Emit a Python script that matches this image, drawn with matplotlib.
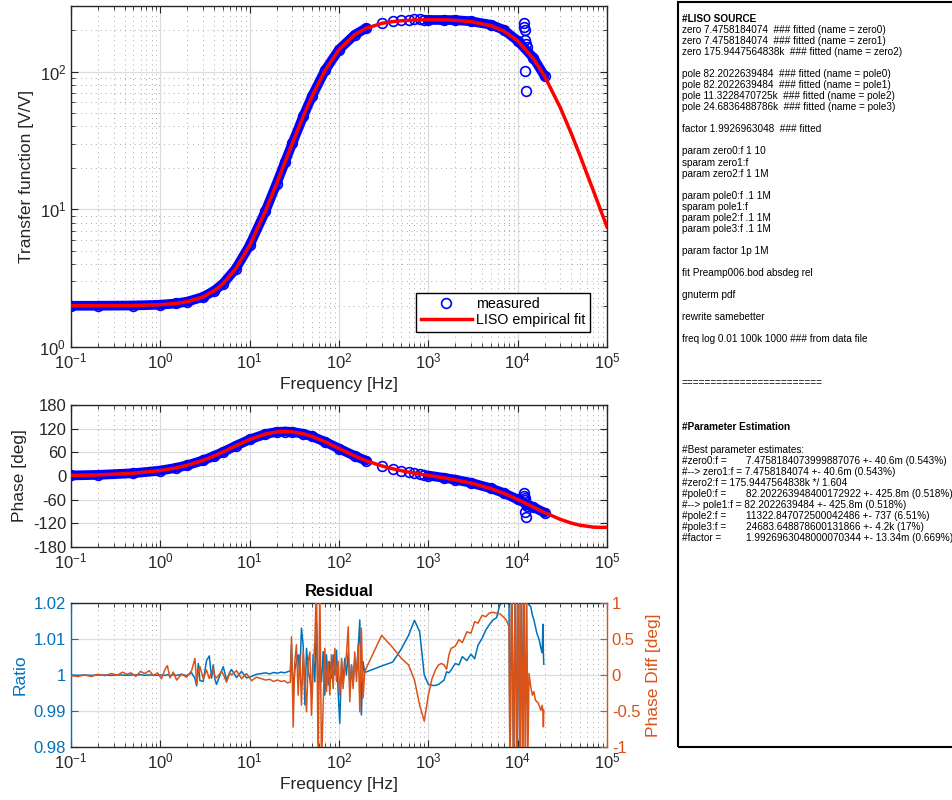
import numpy as np
import matplotlib
matplotlib.use('Agg')
import matplotlib.pyplot as plt
from matplotlib.lines import Line2D
from matplotlib.patches import Rectangle
from matplotlib.ticker import LogLocator, NullFormatter, FixedLocator, LogFormatterSciNotation

plt.rcParams['font.family'] = ['Liberation Sans', 'DejaVu Sans']
plt.rcParams['mathtext.fontset'] = 'custom'
plt.rcParams['mathtext.rm'] = 'Liberation Sans'
plt.rcParams['mathtext.default'] = 'regular'
plt.rcParams['axes.unicode_minus'] = False

# LISO fit curve
f_fit = [0.1, 0.2, 0.5, 1, 1.5, 2, 3, 4, 5, 7, 10, 15, 20, 25, 30, 40, 50, 70, 100, 150, 200,
         300, 400, 500, 600, 700, 800, 900, 1e3, 1.5e3, 2e3, 3e3, 5e3, 7e3, 1e4, 1.5e4, 2e4,
         3e4, 4e4, 5e4, 7e4, 8.5e4, 1e5]
mag_fit = [1.993, 1.994, 2.002, 2.028, 2.072, 2.134, 2.311, 2.557, 2.873, 3.713, 5.477, 9.692,
           15.35, 22.22, 30.08, 47.74, 66.52, 102.4, 144.6, 185.7, 206.4, 224.2, 231.1, 234.4,
           236.1, 237.1, 237.7, 238.0, 238.2, 237.7, 236.1, 231.0, 216.0, 197.3, 167.6, 124.5,
           92.80, 54.83, 35.33, 24.48, 13.77, 9.851, 7.471]
ph_fit = [1.39, 2.79, 6.96, 13.84, 20.60, 27.17, 39.55, 50.73, 60.58, 76.51, 92.57, 106.36,
          111.67, 112.87, 111.91, 106.93, 100.37, 86.46, 69.61, 50.70, 38.99, 25.67, 18.27,
          13.43, 9.94, 7.23, 5.02, 3.15, 1.50, -4.84, -9.72, -17.94, -31.93, -44.05, -59.39,
          -78.80, -92.59, -109.91, -119.50, -124.93, -129.57, -130.33, -129.97]

# measured, low-frequency sweep
f_lo = [0.1, 0.2, 0.5, 1, 1.5, 2, 3, 4, 5, 7, 10, 15, 20, 25, 30, 40, 50, 70, 100, 150, 200]
mag_lo = [1.993, 1.994, 2.002, 2.028, 2.072, 2.134, 2.31, 2.56, 2.87, 3.71, 5.48, 9.69, 15.36,
          22.24, 30.1, 47.8, 66.5, 102.5, 144.7, 185.5, 206.5]
ph_lo = [1.4, 2.8, 7.0, 13.8, 20.6, 27.2, 39.5, 50.7, 60.6, 76.5, 92.6, 106.3, 111.6, 112.8,
         111.8, 106.9, 100.4, 86.5, 69.6, 50.8, 39.0]

# measured, high-frequency sweep
f_hi = [300, 400, 500, 600, 700, 800, 900, 1000, 1500, 2000, 3000, 5000, 7000, 10000, 15000, 20000]
mag_hi = [224.7, 231.9, 236.1, 238.7, 240.7, 240.5, 238.0, 237.6, 237.3, 236.9, 232.3, 219.3,
          201.3, 167.6, 126.3, 93.1]
ph_hi = [26.2, 18.7, 13.7, 10.1, 7.2, 4.6, 2.5, 1.2, -4.7, -9.3, -17.3, -31.1, -43.3, -59.4,
         -79.1, -93.1]

# scattered points around 12 kHz
f_spread = [11800, 11900, 12000, 12100, 12200, 12300, 12500, 12800]
mag_spread = [226, 211, 201, 170, 100.5, 72, 160, 150]
ph_spread = [-50, -42, -62, -55, -92, -105, -70, -75]

# residuals, low sweep
f_res_lo = [0.10, 0.12, 0.14, 0.17, 0.20, 0.24, 0.28, 0.33, 0.38, 0.42, 0.47, 0.53, 0.60, 0.67,
            0.75, 0.84, 0.93,
            1.03, 1.13, 1.2, 1.28, 1.4, 1.52, 1.73, 1.97, 2.24, 2.44, 2.55, 2.66, 2.77, 3.02,
            3.29, 3.53, 3.75, 3.91, 4.08, 4.26, 4.85, 5.06, 5.51, 6.0, 6.27, 7.13, 8.11, 9.23,
            10.5, 11.9,
            13.5, 15, 16.8, 18.5, 20.5, 22.5, 24.5, 26.5, 28.5,
            29.4, 30.7, 32.0, 33.4, 34.9, 36.4, 38.0, 39.7, 41.5, 43.3, 45.2, 47.2, 49.2, 51.4,
            53.6, 56.0, 58.4, 61.0, 63.7, 66.5, 69.4, 72.4, 75.6, 78.9, 82.4, 86.0, 89.8, 93.7,
            97.8, 102, 107, 111, 116, 121, 127, 132, 138, 144, 150, 157, 164, 171, 178, 186, 194]
ratio_lo = [1.0000, 0.9999, 1.0000, 0.9999, 1.0000, 1.0000, 0.9999, 1.0000, 1.0000, 0.9999,
            1.0000, 1.0000, 1.0001, 0.9999, 1.0000, 1.0000, 0.9999,
            1.0000, 0.9999, 1.0001, 0.9998, 1.0001, 0.9999, 1.0002, 0.9998, 1.0006, 0.9990,
            0.9970, 1.0032, 0.9985, 0.9982, 1.0040, 1.0053, 0.9991, 1.0028, 0.9988, 0.9974,
            1.0012, 1.0023, 0.9986, 1.0008, 1.0015, 0.9993, 1.0010, 0.9992, 0.9996, 1.0002,
            1.0004, 1.0006, 1.0003, 1.0007, 1.0005, 1.0008, 1.0006, 1.0009, 1.0011,
            1.0083, 0.9954, 1.0014, 1.0037, 1.0056, 1.0000, 1.0130, 1.0083, 0.9917, 1.0074,
            1.0009, 0.9991, 0.9944, 1.0056, 0.9981, 1.0148, 0.9935, 1.0037, 0.9981, 1.0065,
            0.9944, 1.0056, 0.9972, 1.0037, 0.9991, 1.0056, 1.0000, 1.0069, 0.9954, 0.9866,
            1.0037, 0.9981, 1.0046, 1.0000, 1.0065, 0.9963, 1.0028, 0.9972, 1.0046, 1.0009,
            1.0074, 1.0153, 0.9889, 1.0037, 1.0007]
dph_lo = [-0.01, -0.02, 0.00, -0.02, 0.01, -0.01, 0.02, 0.00, 0.04, 0.01, 0.03, -0.02, 0.05,
          0.02, 0.06, -0.01, 0.03,
          -0.05, 0.08, 0.13, -0.04, 0.04, -0.07, 0.01, -0.03, 0.06, 0.23, -0.12, 0.05, 0.12,
          -0.05, 0.07, -0.05, 0.04, 0.09, -0.02, -0.04, 0.05, 0.01, -0.10, 0.03, 0.00, 0.06,
          -0.05, 0.02, -0.08, -0.03,
          -0.05, -0.07, -0.06, -0.09, -0.07, -0.09, -0.08, -0.11, -0.10,
          0.53, -0.72, 0.19, 0.42, -0.28, 0.28, -0.42, 0.32, -0.05, -0.51, 0.19, 0.32, -0.56,
          0.09, 0.46, 1.3, -1.3, 1.3, -1.3, -0.42, 0.37, -0.23, 0.19, -0.28, 0.28, -0.19, 0.37,
          -0.09, 0.19, -0.28, 0.23, -0.19, 0.09, 0.28, 0.67, -0.37, 0.14, -0.19, 0.32, -0.09,
          0.42, -0.51, 0.65, -0.32, 0.05]

# residuals, high sweep
f_res_hi = [300, 400, 500, 600, 700, 800, 900, 1000, 1100, 1200, 1300, 1400, 1500, 1600, 1700,
            1800, 2000, 2200, 2400, 2700, 3000, 3300, 3600, 4000, 4400, 4800, 5300, 5800, 6300,
            6900, 7500, 8000,
            8200, 8600, 9000, 9400, 9800, 10200, 10600, 11000, 11400, 11800, 12200, 12600, 13000,
            13400, 14000, 14600, 15200, 15800, 16400, 17000, 17600, 18200, 18800, 19200, 19400,
            19600]
ratio_hi = [1.0025, 1.0036, 1.0073, 1.0110, 1.0152, 1.0120, 1.0000, 0.9974, 0.9971, 0.9971,
            0.9974, 0.9980, 0.9986, 1.0009, 1.0006, 1.0014, 1.0032, 1.0028, 1.0051, 1.0040,
            1.0058, 1.0045, 1.0083, 1.0102, 1.0125, 1.0139, 1.0153, 1.0159, 1.0194, 1.0205,
            1.0210, 1.0195,
            0.975, 1.03, 0.97, 1.03, 0.972, 1.03, 0.97, 1.028, 0.975, 1.03, 1.035, 1.03, 1.024,
            1.0194, 1.0190, 1.0167, 1.0153, 1.0134, 1.0116, 1.0106, 1.0093, 1.0074, 1.0062,
            1.0141, 1.0060, 1.0030]
dph_hi = [0.55, 0.38, 0.23, 0.14, -0.07, -0.42, -0.64, -0.28, -0.05, 0.07, 0.14, 0.16, 0.14,
          0.08, 0.28, 0.37, 0.40, 0.49, 0.45, 0.60, 0.58, 0.74, 0.72, 0.83, 0.81, 0.86, 0.87,
          0.86, 0.85, 0.81, 0.76, 0.67,
          -1.5, 1.5, -1.6, 1.4, -1.5, 1.6, -1.4, 1.5, -1.6, 1.3, -1.5, 1.4, -1.2,
          0.02, -0.16, -0.28, -0.23, -0.35, -0.37, -0.39, -0.44, -0.49, -0.42, -0.51, -0.72,
          -0.49]

freq_ticks = [1e-1, 1e0, 1e1, 1e2, 1e3, 1e4, 1e5]

liso_lines = [
    '#LISO SOURCE',
    'zero 7.4758184074  ### fitted (name = zero0)',
    'zero 7.4758184074  ### fitted (name = zero1)',
    'zero 175.9447564838k  ### fitted (name = zero2)',
    '',
    'pole 82.2022639484  ### fitted (name = pole0)',
    'pole 82.2022639484  ### fitted (name = pole1)',
    'pole 11.3228470725k  ### fitted (name = pole2)',
    'pole 24.6836488786k  ### fitted (name = pole3)',
    '',
    'factor 1.9926963048  ### fitted',
    '',
    'param zero0:f 1 10',
    'sparam zero1:f',
    'param zero2:f 1 1M',
    '',
    'param pole0:f .1 1M',
    'sparam pole1:f',
    'param pole2:f .1 1M',
    'param pole3:f .1 1M',
    '',
    'param factor 1p 1M',
    '',
    'fit Preamp006.bod absdeg rel',
    '',
    'gnuterm pdf',
    '',
    'rewrite samebetter',
    '',
    'freq log 0.01 100k 1000 ### from data file',
    '', '', '',
    '========================',
    '', '', '',
    '#Parameter Estimation',
    '',
    '#Best parameter estimates:',
    '#zero0:f =\t7.4758184073999887076 +- 40.6m (0.543%)',
    '#--> zero1:f = 7.4758184074 +- 40.6m (0.543%)',
    '#zero2:f = 175.9447564838k */ 1.604',
    '#pole0:f =\t82.202263948400172922 +- 425.8m (0.518%)',
    '#--> pole1:f = 82.2022639484 +- 425.8m (0.518%)',
    '#pole2:f =\t11322.847072500042486 +- 737 (6.51%)',
    '#pole3:f =\t24683.648878600131866 +- 4.2k (17%)',
    '#factor =\t1.9926963048000070344 +- 13.34m (0.669%)',
]
bold_lines = ['#LISO SOURCE', '#Parameter Estimation']

BLUE = '#0072BD'
ORANGE = '#D95319'
AXC = '#262626'

W, H = 953, 800
fig = plt.figure(figsize=(W / 100, H / 100), dpi=100)


def px_axes(x0, y0, x1, y1):
    return fig.add_axes([x0 / W, 1 - y1 / H, (x1 - x0) / W, (y1 - y0) / H])


def style(ax, minor_y=False):
    ax.set_xscale('log')
    ax.set_xlim(0.1, 1e5)
    ax.xaxis.set_major_locator(FixedLocator(freq_ticks))
    ax.xaxis.set_major_formatter(LogFormatterSciNotation())
    ax.xaxis.set_minor_locator(LogLocator(base=10, subs=np.arange(2, 10), numticks=20))
    ax.xaxis.set_minor_formatter(NullFormatter())
    ax.tick_params(which='both', direction='in', top=True, right=True, labelsize=12,
                   colors=AXC)
    ax.tick_params(which='major', length=5, width=0.8)
    ax.tick_params(which='minor', length=3, width=0.6)
    ax.grid(True, which='major', color='#dcdcdc', lw=0.9)
    ax.grid(True, which='minor', axis='both' if minor_y else 'x', color='#a8a8a8',
            ls=(0, (1, 4)), lw=0.7)
    for s in ax.spines.values():
        s.set_color(AXC)
        s.set_linewidth(1.0)
    ax.set_axisbelow(True)


# --- magnitude ---
ax1 = px_axes(71, 6, 607, 347)
style(ax1, minor_y=True)
ax1.set_yscale('log')
ax1.set_ylim(1, 300)
ax1.yaxis.set_major_locator(FixedLocator([1, 10, 100]))
ax1.yaxis.set_major_formatter(LogFormatterSciNotation())
ax1.yaxis.set_minor_formatter(NullFormatter())
ax1.tick_params(which='both', direction='in', right=True)
ax1.plot(f_lo, mag_lo, color='blue', lw=7, solid_capstyle='round', solid_joinstyle='round', zorder=2)
ax1.plot(f_hi[7:], mag_hi[7:], color='blue', lw=7, solid_capstyle='round', solid_joinstyle='round', zorder=2)
for fx, my in [(f_lo, mag_lo), (f_hi, mag_hi), (f_spread, mag_spread)]:
    ax1.plot(fx, my, 'o', mfc='none', mec='blue', ms=7, mew=1.2, zorder=2)
ax1.plot(f_fit, mag_fit, color='red', lw=2.5, zorder=3)
ax1.set_xlabel('Frequency [Hz]', fontsize=12.5, color=AXC)
ax1.set_ylabel('Transfer function [V/V]', fontsize=12.5, color=AXC)
handles = [Line2D([], [], ls='none', marker='o', mfc='none', mec='blue', ms=7, mew=1.2),
           Line2D([], [], color='red', lw=2.5)]
leg = ax1.legend(handles, ['measured', 'LISO empirical fit'], loc='lower right',
                 bbox_to_anchor=(0.968, 0.045), borderaxespad=0, fontsize=10.3,
                 fancybox=False, edgecolor='black', framealpha=1, handlelength=3.6,
                 handletextpad=0.3, labelspacing=0.15, borderpad=0.3)
leg.get_frame().set_linewidth(1.0)

# --- phase ---
ax2 = px_axes(71, 405, 607, 547)
style(ax2)
ax2.set_ylim(-180, 180)
ax2.yaxis.set_major_locator(FixedLocator([-180, -120, -60, 0, 60, 120, 180]))
ax2.plot(f_lo, ph_lo, color='blue', lw=7, solid_capstyle='round', solid_joinstyle='round', zorder=2)
ax2.plot(f_hi[7:], ph_hi[7:], color='blue', lw=7, solid_capstyle='round', solid_joinstyle='round', zorder=2)
for fx, py in [(f_lo, ph_lo), (f_hi, ph_hi), (f_spread, ph_spread)]:
    ax2.plot(fx, py, 'o', mfc='none', mec='blue', ms=7, mew=1.2, zorder=2)
ax2.plot(f_fit, ph_fit, color='red', lw=2.5, zorder=3)
ax2.set_ylabel('Phase [deg]', fontsize=12.5, color=AXC)

# --- residual ---
ax3 = px_axes(71, 603, 607, 747)
style(ax3)
ax3.grid(False, axis='y')
ax3.grid(True, which='major', axis='y', color='#cfe2f1', lw=0.9)
ax3.set_ylim(0.98, 1.02)
ax3.set_yticks([0.98, 0.99, 1.0, 1.01, 1.02])
ax3.set_yticklabels(['0.98', '0.99', '1', '1.01', '1.02'])
ax3.tick_params(axis='y', which='both', right=False, colors=BLUE)
ax3.spines['left'].set_color(BLUE)
ax3.spines['right'].set_visible(False)
ax3.plot(f_res_lo + f_res_hi, ratio_lo + ratio_hi, color=BLUE, lw=1.1)
ax3.set_xlabel('Frequency [Hz]', fontsize=12.5, color=AXC)
ax3.set_ylabel('Ratio', fontsize=12.5, color=BLUE)
ax3.set_title('Residual', fontsize=12, fontweight='bold', color='black', pad=5)

ax3r = ax3.twinx()
ax3r.set_ylim(-1, 1)
ax3r.set_yticks([-1, -0.5, 0, 0.5, 1])
ax3r.set_yticklabels(['-1', '-0.5', '0', '0.5', '1'])
ax3r.tick_params(axis='y', direction='in', length=5, labelsize=12, colors=ORANGE)
for s in ['left', 'top', 'bottom']:
    ax3r.spines[s].set_visible(False)
ax3r.spines['right'].set_color(ORANGE)
ax3r.spines['right'].set_linewidth(1.0)
ax3r.plot(f_res_lo + f_res_hi, dph_lo + dph_hi, color=ORANGE, lw=1.1)
ax3r.set_ylabel('Phase Diff [deg]', fontsize=12.5, color=ORANGE)

# --- LISO report box ---
fig.patches.append(Rectangle((678 / W, 1 - 746.5 / H), 1.01 - 678 / W, 745 / H,
                             transform=fig.transFigure, fill=False, ec='black', lw=1.5))
for i, line in enumerate(liso_lines):
    if not line:
        continue
    y = 1 - (22 + i * 11.04) / H
    weight = 'bold' if line in bold_lines else 'normal'
    if '\t' in line:
        lab, val = line.split('\t')
        fig.text(682 / W, y, lab, fontsize=7.2, va='baseline')
        fig.text(746 / W, y, val, fontsize=7.2, va='baseline')
    else:
        fig.text(682 / W, y, line, fontsize=7.2, va='baseline', fontweight=weight)

fig.savefig('out.png', dpi=100)
